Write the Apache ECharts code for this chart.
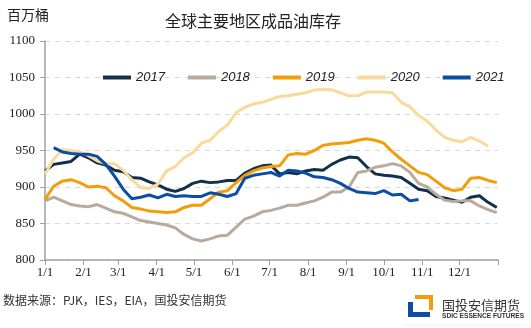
<!DOCTYPE html>
<html><head><meta charset="utf-8">
<script src="https://cdn.jsdelivr.net/npm/echarts@6/dist/echarts.min.js"></script>
<style>html,body{margin:0;padding:0;background:#fff}#c{width:531px;height:328px}</style>
</head><body><div id="c"></div>
<script>
// weekly observation days (day of year)
const weekDays = [0,7,14,21,28,35,42,49,56,63,70,77,84,91,98,105,112,119,126,133,140,147,154,161,168,175,182,189,196,203,210,217,224,231,238,245,252,259,266,273,280,287,294,301,308,315,322,329,336,343,350,357,364];
const y2017 = [922,931,933,935,945,940,933,930,923,921,913,912,907,903,897,894,898,905,908,906,907,909,909,919,925,929,930,918,920,918,922,924,923,931,937,941,940,928,918,916,915,913,905,897,895,887,885,882,879,886,888,879,872];
const y2018 = [881,886,881,876,874,873,876,871,866,864,859,854,852,850,848,844,835,829,826,829,833,834,845,856,860,866,868,871,875,875,878,881,886,893,893,900,920,922,927,929,932,929,920,905,900,890,882,880,881,881,874,869,865];
const y2019 = [883,901,908,910,906,900,901,899,888,881,872,870,867,866,865,866,872,875,875,884,893,895,906,916,922,926,928,929,944,946,945,950,957,959,960,961,964,966,964,960,948,938,929,920,917,908,899,895,897,912,913,909,906];
const y2020 = [918,938,951,950,948,943,936,932,932,923,910,899,898,904,922,928,940,947,960,964,976,985,1002,1009,1014,1016,1020,1024,1025,1027,1029,1033,1034,1033,1029,1025,1025,1030,1030,1030,1029,1016,1010,998,990,978,968,964,962,968,963,956,null];
const y2021 = [null,954,948,946,945,945,942,931,915,897,884,886,889,885,890,887,888,887,887,892,890,887,891,912,916,918,920,915,923,922,919,914,913,910,905,898,893,892,891,895,889,890,881,883];
const seriesNames = ['2017','2018','2019','2020','2021'];
const seriesValues = [y2017,y2018,y2019,y2020,y2021];
const monthStarts = [0,31,59,90,120,151,181,212,243,273,304,334];
const monthLabels = ['1/1','2/1','3/1','4/1','5/1','6/1','7/1','8/1','9/1','10/1','11/1','12/1'];
const yearEnd = 365;

const colors = ['#12304a','#b8aa9c','#f59c0a','#f9d99c','#0b4da2'];
const chart = echarts.init(document.getElementById('c'));
const serif = '"Liberation Serif","Times New Roman",serif';
chart.setOption({
  animation:false,
  color: colors,
  title:{text:'全球主要地区成品油库存', left:248, textAlign:'center', top:8,
    textStyle:{fontFamily:'"Noto Sans CJK SC"', fontSize:16, fontWeight:'normal', color:'#222'}},
  legend:{left:98, top:66, icon:'rect', itemWidth:28, itemHeight:4, itemGap:23,
    textStyle:{fontFamily:'"Liberation Sans",Arial,sans-serif', fontStyle:'italic', fontSize:13, color:'#222'},
    data: seriesNames},
  grid:{left:45, right:33, top:41, bottom:68, containLabel:false},
  xAxis:{type:'value', min:0, max:yearEnd,
    axisLine:{lineStyle:{color:'#a0a0a0', width:1.5}},
    axisTick:{customValues: monthStarts.concat([yearEnd]), length:5, lineStyle:{color:'#a0a0a0'}},
    axisLabel:{customValues: monthStarts, formatter:(v)=>monthLabels[monthStarts.indexOf(v)],
      fontFamily:serif, fontSize:13, color:'#222', margin:6},
    splitLine:{show:false}},
  yAxis:{type:'value', min:800, max:1100, interval:50,
    axisLine:{show:true, lineStyle:{color:'#a0a0a0', width:1.5}},
    axisTick:{show:true, length:5, lineStyle:{color:'#a0a0a0'}},
    axisLabel:{fontFamily:serif, fontSize:13, color:'#222', margin:10, formatter:(v)=>String(v)},
    splitLine:{lineStyle:{color:'#d9d9d9', type:[5,5], width:1}}},
  series: seriesNames.map((n,i)=>({name:n, type:'line', symbol:'none', showSymbol:false,
    data: weekDays.map((d,k)=> seriesValues[i][k]===undefined ? [d,null] : [d, seriesValues[i][k]]),
    lineStyle:{width:3, color:colors[i]}, connectNulls:false})),
  graphic:[
    {type:'text', left:7, top:8, style:{text:'百万桶', fontFamily:'"Noto Sans CJK SC"', fontSize:14, fill:'#222'}},
    {type:'text', left:3, top:294, style:{text:'数据来源：PJK，IES，EIA，国投安信期货', fontFamily:'"Noto Sans CJK SC"', fontSize:12, fill:'#333'}},
    {type:'polygon', shape:{points:[[408,302],[413,302],[413,312],[430,312],[430,317],[408,317]]}, style:{fill:'#0b4da2'}},
    {type:'polygon', shape:{points:[[415,295],[433,295],[433,310],[429,310],[429,299],[415,299]]}, style:{fill:'#f59c0a'}},
    {type:'text', left:442, top:299, style:{text:'国投安信期货', fontFamily:'"Noto Sans CJK SC"', fontSize:13, fill:'#333'}},
    {type:'text', left:442, top:313, style:{text:'SDIC ESSENCE FUTURES', fontFamily:'"Liberation Sans",sans-serif', fontSize:6.6, fontWeight:'bold', fill:'#333'}},
    {type:'line', shape:{x1:404, y1:325, x2:526, y2:325}, style:{stroke:'#eeeeee', lineWidth:1}}
  ]
});
</script></body></html>
